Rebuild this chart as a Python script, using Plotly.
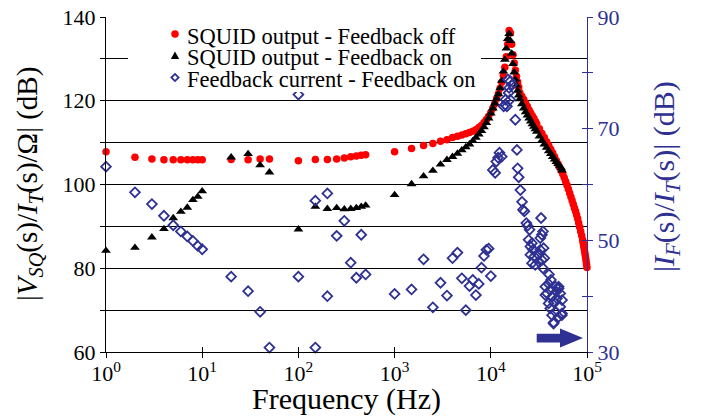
import plotly.graph_objects as go

# ---- data -------------------------------------------------------------
# SQUID output, feedback off (left axis, dB)
freq_off = [1, 2, 3, 4, 5, 6, 7, 8, 9, 10, 20, 30, 40, 50,
            100, 150, 200, 250, 300, 350, 400, 450, 500,
            1000, 1500, 2000, 2500, 3000, 3500, 4000,
            4500, 5000, 5500, 6000, 6500, 7000, 7500, 8000, 8500, 9000, 9500, 10000,
            10500, 11000, 11500, 12000, 12500, 13000, 13500, 14000, 14500, 15000,
            15500, 16000, 16500, 17000, 17500, 18000, 18500, 19000, 19500, 20000,
            21000, 22000, 23000, 24000, 25000, 26000, 27000, 28000, 29000, 30000,
            32000, 34000, 36000, 38000, 40000, 42000, 44000, 46000, 48000, 50000,
            52000, 54000, 56000, 58000, 60000, 62000, 64000, 66000, 68000, 70000,
            72000, 74000, 76000, 78000, 80000, 82000, 84000, 86000, 88000, 90000,
            91000, 92000, 93000, 94000, 95000, 96000, 97000, 98000, 99000, 100000]
squid_off = [107.8, 106.5, 106.1, 105.9, 105.9, 105.9, 105.9, 105.9, 105.9, 105.9,
             106.0, 105.9, 106.1, 106.1,
             105.7, 106.0, 106.0, 106.1, 106.3, 106.6, 106.8, 107.0, 107.1,
             107.8, 108.6, 109.3, 109.8, 110.3, 110.7, 111.2,
             111.5, 111.8, 112.1, 112.4, 112.7, 113.1, 113.6, 114.1, 114.8, 115.5, 116.3, 117.2,
             118.2, 119.3, 120.5, 121.7, 123.0, 124.4, 126.0, 128.0, 130.5, 133.5,
             136.8, 136.2, 133.5, 131.0, 129.0, 127.3, 125.8, 124.5, 123.3, 122.0,
             121.1, 120.3, 119.4, 118.6, 117.8, 117.1, 116.4, 115.8, 115.1, 114.5,
             113.3, 112.2, 111.2, 110.2, 109.3, 108.4, 107.5, 106.6, 105.7, 104.9,
             104.1, 103.3, 102.5, 101.6, 100.7, 99.8, 98.9, 98.0, 97.1, 96.2,
             95.3, 94.4, 93.6, 92.7, 91.8, 90.8, 89.8, 88.8, 87.8, 86.8,
             86.2, 85.6, 85.0, 84.4, 83.7, 83.0, 82.3, 81.6, 80.9, 80.2]

# SQUID output, feedback on (left axis, dB)
freq_on = [1, 2, 3, 4, 5, 6, 7, 8, 9, 10, 20, 30, 40, 50,
           100, 150, 200, 250, 300, 350, 400, 450, 500,
           1000, 1500, 2000, 2500, 3000, 3500, 4000,
           4500, 5000, 5500, 6000, 6500, 7000, 7500, 8000, 8500, 9000, 9500, 10000,
           10500, 11000, 11500, 12000, 12500, 13000, 13500, 14000, 14500, 15000,
           15500, 16000, 16500, 17000, 17500, 18000, 18500, 19000, 19500, 20000,
           21000, 22000, 23000, 24000, 25000, 26000, 27000, 28000, 29000, 30000,
           32000, 34000, 36000, 38000, 40000, 42000, 44000, 46000, 48000, 50000,
           52000, 54000, 55000]
squid_on = [84.2, 84.9, 87.4, 89.4, 92.0, 93.5, 94.5, 96.3, 97.1, 98.4,
            106.5, 107.3, 104.6, 102.9,
            89.3, 94.7, 94.2, 94.4, 94.1, 94.2, 94.4, 94.7, 95.0,
            97.5, 100.1, 102.0, 103.3, 104.8, 105.9, 106.6,
            107.4, 108.2, 108.9, 109.6, 110.4, 111.2, 112.0, 112.8, 113.7, 114.7, 115.8, 117.0,
            118.2, 119.4, 120.5, 121.6, 123.0, 124.8, 127.0, 129.8, 132.5, 134.8,
            136.0, 134.3, 131.3, 128.8, 126.8, 125.1, 123.7, 122.4, 121.3, 120.4,
            119.2, 118.2, 117.3, 116.5, 115.8, 115.1, 114.4, 113.8, 113.2, 112.6,
            111.5, 110.5, 109.6, 108.8, 108.0, 107.3, 106.6, 106.0, 105.4, 104.9,
            104.4, 103.9, 103.4]

# Feedback current, feedback on (right axis, dB)
freq_fb = [1, 2, 3, 4, 5, 6, 7, 8, 9, 10,
           20, 30, 40, 50,
           100, 100, 150, 150, 200, 200, 250, 300, 350, 400, 450, 500,
           1000, 1500, 2000, 2500, 3000, 3500, 4000, 4500, 5000, 5500, 6000, 6500,
           7000, 7500, 8000, 8500, 9000, 9500, 10000,
           10500, 11100, 11400, 11900, 12300, 13000,
           13600, 14100, 14700, 14200, 15300, 15900, 15500, 15950, 16600, 15100,
           18000,
           18700, 19000, 19500, 20300, 21100, 21600, 22300, 23400, 24100, 25300,
           24700, 26800, 25800, 27500, 25800, 28300, 26800, 29000,
           31400, 32700, 33300, 34000, 32700, 34900, 35400, 36000, 34000, 31400, 34900, 40300,
           36900, 39900, 41500, 38400, 36900, 43300, 46900, 50700, 52700, 48700,
           45000, 39900, 55000, 52700, 41500, 46900, 55000, 50700, 43300, 45000,
           48000, 42200, 44900, 54900, 50700]
current_fb = [63.2, 58.6, 56.5, 54.4, 52.7, 51.6, 50.7, 49.9, 49.0, 48.4,
              43.5, 40.9, 37.2, 30.8,
              76.1, 43.5, 57.1, 30.8, 58.4, 40.0, 50.8, 53.5, 46.0, 43.3, 51.0, 43.9,
              40.4, 41.2, 46.6, 38.0, 42.4, 40.1, 46.8, 47.8, 43.2, 37.5, 41.8, 42.9,
              40.2, 42.2, 45.1, 47.2, 48.3, 48.5, 43.6,
              62.6, 62.1, 64.1, 64.8, 65.7, 65.0,
              74.0, 74.3, 74.0, 75.2, 76.4, 75.2, 77.3, 78.5, 77.9, 78.8,
              71.6,
              66.2, 62.9, 61.3, 59.0, 56.9, 55.5, 55.2, 53.1, 52.6, 51.9,
              50.1, 49.5, 48.9, 48.3, 47.4, 47.1, 45.9, 45.6,
              47.4, 48.3, 54.0, 51.0, 50.4, 51.6, 48.6, 46.8, 46.5, 46.2, 45.0, 43.9,
              41.7, 42.2, 41.1, 40.5, 40.2, 39.9, 41.7, 41.4, 40.5, 39.6,
              39.0, 38.7, 39.3, 38.1, 37.8, 37.2, 36.9, 36.3, 36.6, 35.3,
              40.8, 42.9, 35.1, 36.6, 41.7]

x_ticks = [1, 10, 100, 1000, 10000, 100000]
x_tick_text = ["10<sup>0</sup>", "10<sup>1</sup>", "10<sup>2</sup>",
               "10<sup>3</sup>", "10<sup>4</sup>", "10<sup>5</sup>"]
left_ticks = [60, 70, 80, 90, 100, 110, 120, 130, 140]
left_tick_text = ["60", "", "80", "", "100", "", "120", "", "140"]
right_ticks = [30, 40, 50, 60, 70, 80, 90]
right_tick_text = ["30", "", "50", "", "70", "", "90"]
legend_labels = ["SQUID output - Feedback off",
                 "SQUID output - Feedback on",
                 "Feedback current - Feedback on"]

# ---- style ------------------------------------------------------------
FONT = "Liberation Serif"
RED = "#FF0000"
BLACK = "#000000"
NAVY = "#2E3192"
W, H = 701, 417
ML, MR, MT, MB = 106, 114, 17, 65
PW, PH = W - ML - MR, H - MT - MB


def paper(xp, yp):
    """Convert a pixel position on the page to paper coordinates."""
    return (xp - ML) / PW, (H - MB - yp) / PH


fig = go.Figure()

fig.add_trace(go.Scatter(x=freq_off, y=squid_off, mode="markers", name=legend_labels[0],
                         marker=dict(symbol="circle", size=7.5, color=RED),
                         cliponaxis=False, showlegend=False))
fig.add_trace(go.Scatter(x=freq_on, y=squid_on, mode="markers", name=legend_labels[1],
                         marker=dict(symbol="triangle-up", size=8.5, color=BLACK),
                         cliponaxis=False, showlegend=False))
fig.add_trace(go.Scatter(x=freq_fb, y=current_fb, mode="markers", name=legend_labels[2],
                         yaxis="y2",
                         marker=dict(symbol="diamond-open", size=7.5, color=NAVY,
                                     line=dict(width=1.8, color=NAVY)),
                         cliponaxis=False, showlegend=False))
# empty traces that carry the inward half of the crossing tick marks
fig.add_trace(go.Scatter(x=[None], y=[None], xaxis="x2", yaxis="y3",
                         showlegend=False, hoverinfo="skip"))
fig.add_trace(go.Scatter(x=[None], y=[None], yaxis="y4",
                         showlegend=False, hoverinfo="skip"))

tick_font = dict(family=FONT, size=22, color=BLACK)

fig.update_layout(
    width=W, height=H, autosize=False,
    margin=dict(l=ML, r=MR, t=MT, b=MB, pad=0, autoexpand=False),
    paper_bgcolor="white", plot_bgcolor="white",
    showlegend=False,
    xaxis=dict(type="log", range=[0, 5], showline=True, linecolor=BLACK, linewidth=1,
               ticks="outside", ticklen=5, tickcolor=BLACK, tickwidth=1,
               tickvals=x_ticks, ticktext=x_tick_text, tickfont=tick_font,
               ticklabelstandoff=-3,
               showgrid=False, zeroline=False, automargin=False),
    xaxis2=dict(type="log", range=[0, 5], overlaying="x", side="bottom", anchor="y",
                showline=False, ticks="inside", ticklen=5, tickcolor=BLACK,
                tickvals=x_ticks, showticklabels=False, showgrid=False, zeroline=False,
                automargin=False),
    yaxis=dict(range=[60, 140], showline=True, linecolor=BLACK, linewidth=1,
               ticks="outside", ticklen=5, tickcolor=BLACK,
               tickvals=left_ticks, ticktext=left_tick_text, tickfont=tick_font,
               showgrid=True, gridcolor=BLACK, gridwidth=1, zeroline=False,
               automargin=False),
    yaxis3=dict(range=[60, 140], overlaying="y", side="left", anchor="x",
                showline=False, ticks="inside", ticklen=5, tickcolor=BLACK,
                tickvals=left_ticks, showticklabels=False, showgrid=False, zeroline=False,
                automargin=False),
    yaxis2=dict(range=[30, 90], overlaying="y", side="right", anchor="x",
                showline=True, linecolor=NAVY, linewidth=1,
                ticks="outside", ticklen=5, tickcolor=NAVY,
                tickvals=right_ticks, ticktext=right_tick_text,
                tickfont=dict(family=FONT, size=22, color=NAVY),
                showgrid=False, zeroline=False, automargin=False),
    yaxis4=dict(range=[30, 90], overlaying="y", side="right", anchor="x",
                showline=False, ticks="inside", ticklen=5, tickcolor=NAVY,
                tickvals=right_ticks, showticklabels=False, showgrid=False, zeroline=False,
                automargin=False),
)

annotations = []
shapes = []

# axis titles
tx, ty = paper(346, 399)
annotations.append(dict(x=tx, y=ty, xref="paper", yref="paper", showarrow=False,
                        text="Frequency (Hz)", xanchor="center", yanchor="middle",
                        font=dict(family=FONT, size=30, color=BLACK)))
tx, ty = paper(29, 184)
annotations.append(dict(x=tx, y=ty, xref="paper", yref="paper", showarrow=False,
                        textangle=-90, xanchor="center", yanchor="middle",
                        text="|<i>V</i><sub><i>SQ</i></sub>(s)/<i>I</i><sub><i>T</i></sub>(s)/Ω| (dB)",
                        font=dict(family=FONT, size=29, color=BLACK)))
tx, ty = paper(666, 177)
annotations.append(dict(x=tx, y=ty, xref="paper", yref="paper", showarrow=False,
                        textangle=-90, xanchor="center", yanchor="middle",
                        text="|<i>I</i><sub><i>F</i></sub>(s)/<i>I</i><sub><i>T</i></sub>(s)| (dB)",
                        font=dict(family=FONT, size=30, color=NAVY)))

# legend: white panel, glyphs and labels
x0, y0 = paper(128, 19)
x1, y1 = paper(481, 92)
shapes.append(dict(type="rect", xref="paper", yref="paper", x0=x0, y0=y1, x1=x1, y1=y0,
                   fillcolor="white", line=dict(width=0), layer="above"))

row_y = [34, 55.5, 77.5]
gx = 175
for label, yy in zip(legend_labels, row_y):
    lx, ly = paper(185, yy + 2)
    annotations.append(dict(x=lx, y=ly, xref="paper", yref="paper", showarrow=False,
                            text=label, xanchor="left", yanchor="middle",
                            font=dict(family=FONT, size=22.5, color=BLACK)))

# red circle
cx0, cy0 = paper(gx - 3.75, row_y[0] - 3.75)
cx1, cy1 = paper(gx + 3.75, row_y[0] + 3.75)
shapes.append(dict(type="circle", xref="paper", yref="paper", x0=cx0, y0=cy1, x1=cx1, y1=cy0,
                   fillcolor=RED, line=dict(width=0), layer="above"))


def path_from(points):
    parts = []
    for i, (xp, yp) in enumerate(points):
        px_, py_ = paper(xp, yp)
        parts.append(("M" if i == 0 else "L") + f"{px_:.5f},{py_:.5f}")
    return " ".join(parts) + " Z"


# black triangle
yy = row_y[1]
shapes.append(dict(type="path", xref="paper", yref="paper",
                   path=path_from([(gx - 4.2, yy + 3.4), (gx + 4.2, yy + 3.4), (gx, yy - 4.0)]),
                   fillcolor=BLACK, line=dict(width=0), layer="above"))
# navy open diamond
yy = row_y[2]
shapes.append(dict(type="path", xref="paper", yref="paper",
                   path=path_from([(gx - 3.6, yy), (gx, yy - 3.6), (gx + 3.6, yy), (gx, yy + 3.6)]),
                   fillcolor="white", line=dict(width=1.8, color=NAVY), layer="above"))

# arrow pointing to the right-hand axis
shapes.append(dict(type="path", xref="paper", yref="paper",
                   path=path_from([(536.7, 333.8), (560, 333.8), (560, 328.5), (583, 338),
                                   (560, 347.5), (560, 342.5), (536.7, 342.5)]),
                   fillcolor=NAVY, line=dict(width=0), layer="above"))

fig.update_layout(annotations=annotations, shapes=shapes)

fig.write_html("out.html")
